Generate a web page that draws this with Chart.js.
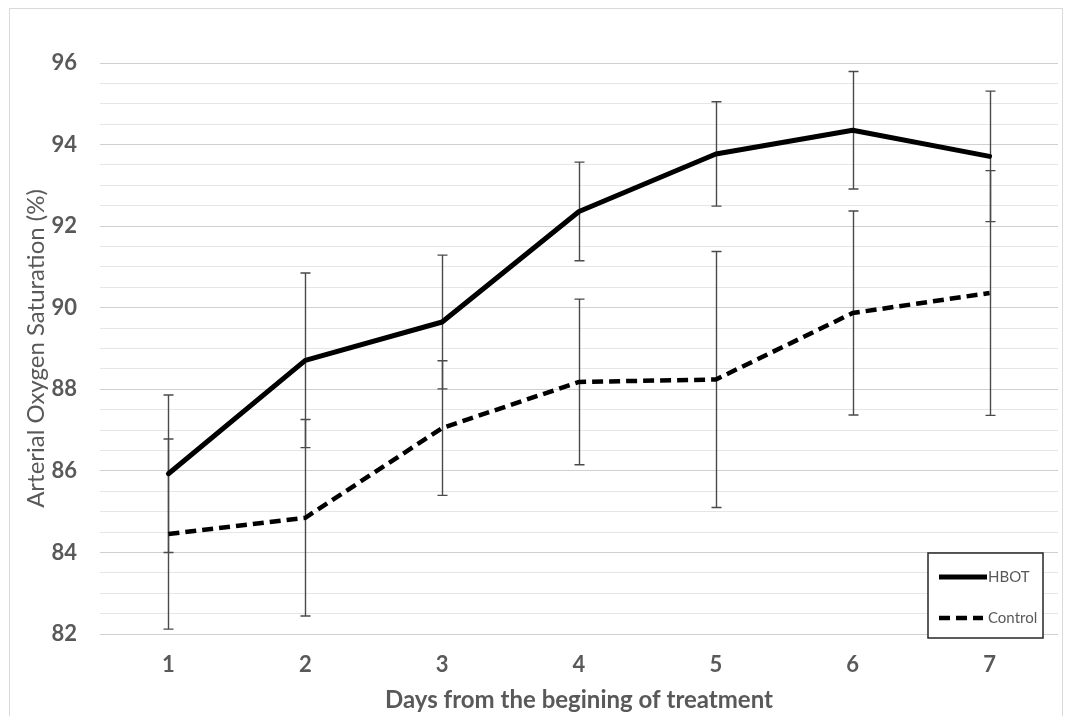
<!DOCTYPE html>
<html>
<head>
<meta charset="utf-8">
<script src="https://cdn.jsdelivr.net/npm/chart.js@4.4.1/dist/chart.umd.min.js"></script>
<style>
  html, body { margin: 0; padding: 0; background: #ffffff; }
  #wrap { position: relative; width: 1068px; height: 716px; }
</style>
</head>
<body>
<div id="wrap"><canvas id="c" width="1068" height="716"></canvas></div>
<script>
// ---- data ----
const days = ['1', '2', '3', '4', '5', '6', '7'];
const hbotMean = [85.93, 88.71, 89.65, 92.36, 93.77, 94.35, 93.71];
const hbotErr = [1.93, 2.14, 1.64, 1.21, 1.28, 1.44, 1.60];
const controlMean = [84.45, 84.85, 87.05, 88.18, 88.24, 89.87, 90.36];
const controlErr = [2.33, 2.41, 1.65, 2.03, 3.14, 2.50, 3.00];
const yMin = 82, yMax = 96, yMajorStep = 2, yMinorStep = 0.5;
const seriesNames = ['HBOT', 'Control'];
const xTitle = 'Days from the begining of treatment';
const yTitle = 'Arterial Oxygen Saturation (%)';

const textColor = '#595959';
const fontFamily = 'Lato, "Open Sans", sans-serif';

const frame = {
  id: 'frame',
  beforeDraw(chart) {
    const ctx = chart.ctx;
    ctx.save();
    ctx.fillStyle = '#ffffff';
    ctx.fillRect(0, 0, chart.width, chart.height);
    ctx.strokeStyle = '#d9d9d9';
    ctx.lineWidth = 1;
    ctx.strokeRect(9.5, 8.5, 1053, 730);
    ctx.restore();
  }
};

const errorBars = {
  id: 'errorBars',
  beforeDatasetsDraw(chart) {
    const ctx = chart.ctx;
    const x = chart.scales.x, y = chart.scales.y;
    const sets = [[hbotMean, hbotErr], [controlMean, controlErr]];
    ctx.save();
    ctx.strokeStyle = '#4a4a4a';
    ctx.lineWidth = 1.4;
    sets.forEach(([m, e]) => {
      m.forEach((v, i) => {
        const px = Math.round(x.getPixelForValue(i)) + 0.5;
        const top = y.getPixelForValue(v + e[i]);
        const bot = y.getPixelForValue(v - e[i]);
        ctx.beginPath();
        ctx.moveTo(px, top); ctx.lineTo(px, bot);
        ctx.moveTo(px - 5, top); ctx.lineTo(px + 5, top);
        ctx.moveTo(px - 5, bot); ctx.lineTo(px + 5, bot);
        ctx.stroke();
      });
    });
    ctx.restore();
  }
};

const boxLegend = {
  id: 'boxLegend',
  afterDraw(chart) {
    const ctx = chart.ctx;
    const a = chart.chartArea;
    const right = a.right - 15, bottom = a.bottom + 4;
    const left = right - 115, top = bottom - 85;
    ctx.save();
    ctx.fillStyle = '#ffffff';
    ctx.fillRect(left, top, right - left, bottom - top);
    ctx.strokeStyle = '#262626';
    ctx.lineWidth = 1.5;
    ctx.strokeRect(left, top, right - left, bottom - top);
    const ds = chart.data.datasets;
    const rows = [top + 24, top + 65];
    ds.forEach((d, i) => {
      ctx.beginPath();
      ctx.strokeStyle = d.borderColor;
      ctx.lineWidth = d.borderWidth;
      ctx.setLineDash(d.borderDash || []);
      ctx.lineCap = 'butt';
      ctx.moveTo(left + 11, rows[i]);
      ctx.lineTo(left + (i === 0 ? 59 : 55), rows[i]);
      ctx.stroke();
      ctx.setLineDash([]);
      ctx.fillStyle = textColor;
      ctx.font = '15px ' + fontFamily;
      ctx.textBaseline = 'middle';
      ctx.textAlign = 'left';
      ctx.fillText(d.label, left + 60, rows[i]);
    });
    ctx.restore();
  }
};

new Chart(document.getElementById('c'), {
  type: 'line',
  data: {
    labels: days,
    datasets: [
      {
        label: seriesNames[0],
        data: hbotMean,
        borderColor: '#000000',
        borderWidth: 5,
        pointRadius: 0,
        tension: 0,
        borderCapStyle: 'round',
        borderJoinStyle: 'round'
      },
      {
        label: seriesNames[1],
        data: controlMean,
        borderColor: '#000000',
        borderWidth: 4.5,
        borderDash: [11, 6],
        pointRadius: 0,
        tension: 0
      }
    ]
  },
  options: {
    responsive: false,
    animation: false,
    devicePixelRatio: 1,
    layout: { padding: { left: 10, right: 10, top: 63, bottom: 0 } },
    plugins: { legend: { display: false }, tooltip: { enabled: false } },
    scales: {
      x: {
        type: 'category',
        offset: true,
        grid: { display: false, drawTicks: false },
        border: { display: false },
        ticks: {
          color: textColor,
          font: { family: fontFamily, size: 22, weight: 'bold' },
          padding: 18
        },
        title: {
          display: true,
          text: xTitle,
          color: textColor,
          font: { family: fontFamily, size: 24, weight: 'bold' },
          padding: { top: 0, bottom: 1 }
        },
        afterFit(s) { s.height = 82; }
      },
      y: {
        min: yMin,
        max: yMax,
        grid: {
          drawTicks: false,
          color: (c) => (c.tick && c.tick.value % yMajorStep === 0) ? '#d0d0d0' : '#e6e6e6',
          lineWidth: 1
        },
        border: { display: false },
        ticks: {
          stepSize: yMinorStep,
          autoSkip: false,
          color: textColor,
          font: { family: fontFamily, size: 22, weight: 'bold' },
          padding: 23,
          callback: (v) => (v % yMajorStep === 0 ? String(v) : '')
        },
        title: {
          display: true,
          text: yTitle,
          color: textColor,
          font: { family: fontFamily, size: 24, weight: 'normal' },
          padding: { top: 12, bottom: 0 }
        },
        afterFit(s) { s.width = 90; }
      }
    }
  },
  plugins: [frame, errorBars, boxLegend]
});
</script>
</body>
</html>
